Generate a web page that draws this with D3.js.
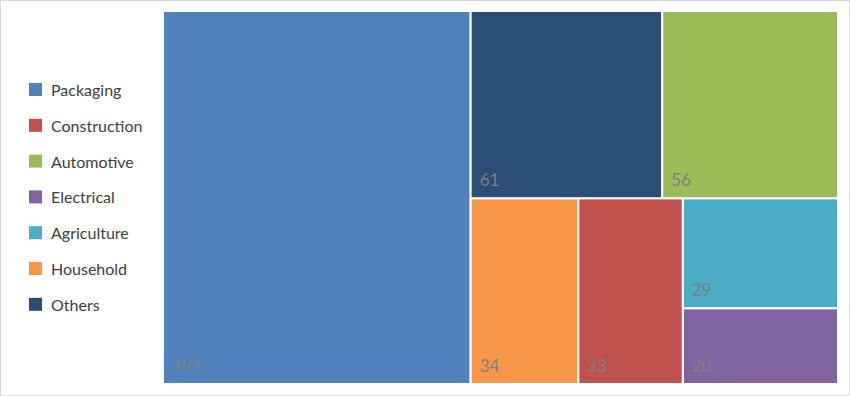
<!DOCTYPE html>
<html>
<head>
<meta charset="utf-8">
<script src="https://cdn.jsdelivr.net/npm/d3@7"></script>
<style>
  body { margin: 0; background: #fff; }
  svg { display: block; font-family: Lato, "Open Sans", sans-serif; }
</style>
</head>
<body>
<svg id="chart" width="850" height="396"></svg>
<script>
// data
var categories = ["Packaging", "Construction", "Automotive", "Electrical", "Agriculture", "Household", "Others"];
var values = [195, 33, 56, 20, 29, 34, 61];
var colors = ["#4F81BD", "#C0504D", "#9BBB59", "#8064A2", "#4BACC6", "#F79646", "#2C4D75"];

var svg = d3.select("svg#chart");
var width = +svg.attr("width"),
    height = +svg.attr("height");

var color = d3.scaleOrdinal().domain(categories).range(colors);

// outer frame
svg.append("rect")
   .attr("x", 0.5).attr("y", 0.5)
   .attr("width", width - 1).attr("height", height - 1)
   .attr("fill", "#fff")
   .attr("stroke", "#d9d9d9");

// treemap
var area = {x0: 164, y0: 12, x1: 837, y1: 383};

var root = d3.hierarchy({children: categories.map(function(c, i) { return {name: c, value: values[i]}; })})
             .sum(function(d) { return d.value || 0; })
             .sort(function(a, b) { return b.value - a.value; });

d3.treemap()
  .tile(d3.treemapSquarify.ratio(1))
  .size([area.x1 - area.x0, area.y1 - area.y0])
  .paddingInner(2.2)(root);

var cell = svg.append("g")
              .attr("transform", "translate(" + area.x0 + "," + area.y0 + ")")
              .selectAll("g")
              .data(root.leaves())
              .enter().append("g")
              .attr("transform", function(d) { return "translate(" + d.x0 + "," + d.y0 + ")"; });

cell.append("rect")
    .attr("width", function(d) { return d.x1 - d.x0; })
    .attr("height", function(d) { return d.y1 - d.y0; })
    .attr("fill", function(d) { return color(d.data.name); });

cell.append("text")
    .attr("x", 8)
    .attr("y", function(d) { return d.y1 - d.y0 - 11; })
    .attr("font-size", 17)
    .attr("fill", "#7f7f7f")
    .text(function(d) { return d.data.value; });

// legend
var legend = svg.append("g")
                .selectAll("g")
                .data(categories)
                .enter().append("g")
                .attr("transform", function(d, i) { return "translate(29," + (83 + i * 35.8) + ")"; });

legend.append("rect")
      .attr("width", 13).attr("height", 13)
      .attr("fill", function(d) { return color(d); });

legend.append("text")
      .attr("x", 22)
      .attr("y", 13)
      .attr("font-size", 16)
      .attr("fill", "#404040")
      .text(function(d) { return d; });
</script>
</body>
</html>
